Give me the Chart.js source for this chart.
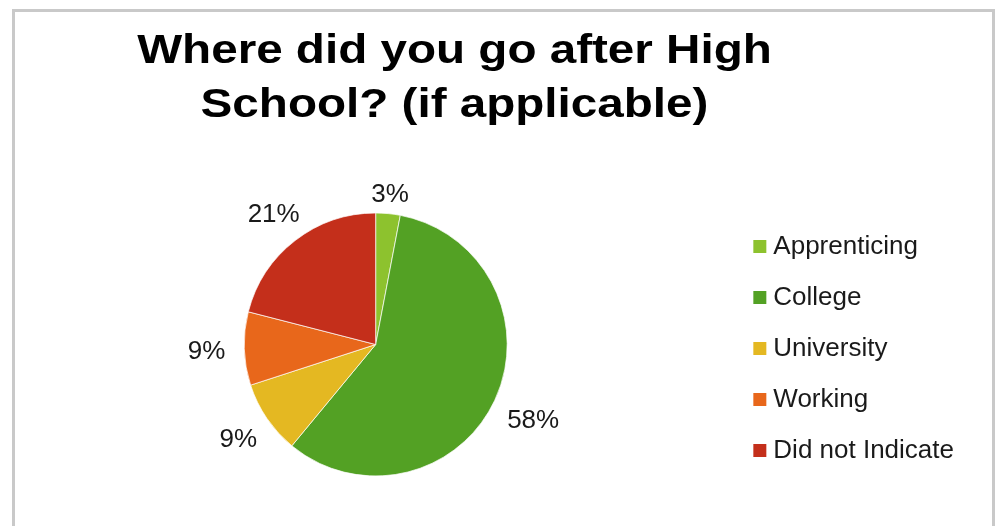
<!DOCTYPE html>
<html>
<head>
<meta charset="utf-8">
<script src="https://cdn.jsdelivr.net/npm/chart.js@4/dist/chart.umd.min.js"></script>
<style>
  html, body { margin: 0; padding: 0; background: #fff; overflow: hidden; }
  #wrap { position: relative; width: 998px; height: 526px; }
  #frame { position: absolute; left: 12px; top: 9px; width: 983px; height: 600px;
           border: 3px solid #c9c9c9; box-sizing: border-box; }
  #c { position: absolute; left: 0; top: 0; }
</style>
</head>
<body>
<div id="wrap">
  <div id="frame"></div>
  <canvas id="c" width="998" height="526"></canvas>
</div>
<script>
// Survey answers: where respondents went after high school (share of answers, %)
const titleLines = ['Where did you go after High', 'School? (if applicable)'];
const categories = ['Apprenticing', 'College', 'University', 'Working', 'Did not Indicate'];
const shares = [3, 58, 9, 9, 21];
const sliceColors = ['#8dc22e', '#53a124', '#e4b822', '#e8671b', '#c42f1b'];

const FONT = '"Liberation Sans", Arial, Helvetica, sans-serif';

// Heading drawn with a slight horizontal stretch
const stretchedTitle = {
  id: 'stretchedTitle',
  afterDraw(chart, args, opts) {
    const ctx = chart.ctx;
    ctx.save();
    ctx.font = `bold ${opts.size}px ${opts.family}`;
    ctx.fillStyle = opts.color;
    ctx.textAlign = 'center';
    ctx.textBaseline = 'alphabetic';
    opts.lines.forEach((line, i) => {
      ctx.save();
      ctx.translate(opts.centerX, opts.firstBaseline + i * opts.lineGap);
      ctx.scale(opts.stretch, 1);
      ctx.fillText(line, 0, 0);
      ctx.restore();
    });
    ctx.restore();
  }
};

// Percentage labels placed just outside each slice, pushed out by half the text width
const sliceLabels = {
  id: 'sliceLabels',
  afterDatasetsDraw(chart, args, opts) {
    const ctx = chart.ctx;
    const meta = chart.getDatasetMeta(0);
    const values = chart.data.datasets[0].data;
    const total = values.reduce((a, b) => a + b, 0);
    ctx.save();
    ctx.font = `${opts.size}px ${opts.family}`;
    ctx.fillStyle = opts.color;
    ctx.textAlign = 'center';
    ctx.textBaseline = 'alphabetic';
    meta.data.forEach((arc, i) => {
      const p = arc.getProps(['x', 'y', 'startAngle', 'endAngle', 'outerRadius'], true);
      const mid = (p.startAngle + p.endAngle) / 2;
      const ux = Math.cos(mid), uy = Math.sin(mid);
      const text = Math.round(values[i] / total * 100) + '%';
      const w = ctx.measureText(text).width;
      const h = opts.size * 0.716;
      const d = p.outerRadius + opts.gap + Math.abs(ux) * w / 2;
      ctx.fillText(text, p.x + ux * d, p.y + uy * d + h / 2);
    });
    ctx.restore();
  }
};

new Chart(document.getElementById('c'), {
  type: 'pie',
  data: {
    labels: categories,
    datasets: [{
      data: shares,
      backgroundColor: sliceColors,
      borderColor: 'rgba(255,255,255,0.7)',
      borderWidth: 1,
      radius: 131.5,
      hoverOffset: 0
    }]
  },
  plugins: [stretchedTitle, sliceLabels],
  options: {
    responsive: false,
    devicePixelRatio: 1,
    animation: false,
    layout: { padding: { top: 163, bottom: 0, left: 17, right: 34 } },
    plugins: {
      title: { display: false },
      tooltip: { enabled: false },
      legend: {
        position: 'right',
        align: 'center',
        title: { display: true, text: ' ', font: { size: 8, lineHeight: 1 }, padding: 0 },
        labels: {
          font: { size: 26, family: FONT },
          color: '#1a1a1a',
          usePointStyle: true,
          pointStyle: 'rect',
          boxWidth: 1,
          boxHeight: 13,
          padding: 25,
          generateLabels(chart) {
            const items = Chart.overrides.pie.plugins.legend.labels.generateLabels(chart);
            items.forEach(it => { it.lineWidth = 0; it.strokeStyle = 'rgba(0,0,0,0)'; it.pointStyle = 'rect'; });
            return items;
          }
        }
      },
      stretchedTitle: {
        lines: titleLines,
        size: 40,
        family: FONT,
        color: '#000',
        centerX: 454.5,
        firstBaseline: 63.3,
        lineGap: 53.4,
        stretch: 1.19
      },
      sliceLabels: { size: 26, family: FONT, color: '#1a1a1a', gap: 19 }
    }
  }
});
</script>
</body>
</html>
